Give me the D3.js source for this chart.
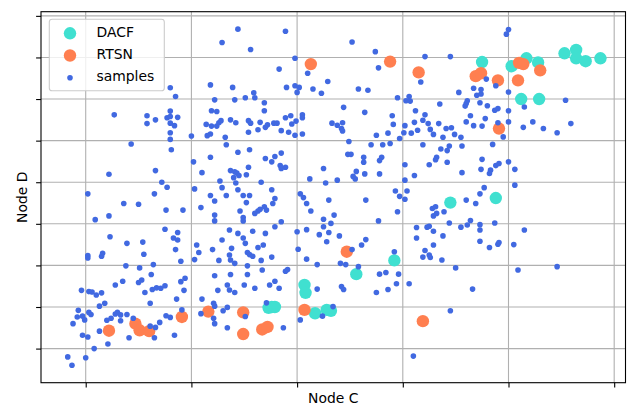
<!DOCTYPE html>
<html>
<head>
<meta charset="utf-8">
<script src="https://cdn.jsdelivr.net/npm/d3@7"></script>
<style>
body { margin: 0; background: white; }
text { font-family: "DejaVu Sans", sans-serif; }
</style>
</head>
<body>
<svg width="627" height="407"></svg>
<script>
// samples, [Node C, Node D]
const samples = [
  [0.80,6.27],[0.85,6.06],[0.27,5.62],[0.58,5.60],[0.58,5.41],[0.66,5.50],[0.80,5.71],[0.77,5.55],[0.80,5.58],[0.87,5.56],
  [0.80,5.42],[0.84,5.36],[0.80,5.19],[0.80,5.03],[0.81,4.78],[0.43,4.92],[0.22,4.19],[0.66,4.28],[0.72,4.00],[0.77,3.88],
  [0.02,3.72],[0.65,3.72],
  [1.44,7.68],[1.89,7.63],[1.29,7.36],[1.56,7.19],[1.98,6.98],[2.10,6.62],[1.83,6.72],[2.29,6.42],[1.18,6.34],[1.39,6.28],
  [1.59,6.15],[1.60,6.03],[1.22,5.98],[1.41,5.98],[1.51,6.03],[1.69,5.91],[1.69,5.72],[1.90,6.28],[1.98,6.32],[2.02,6.28],
  [2.00,6.16],[2.15,6.24],[2.23,6.14],[1.19,5.72],[1.24,5.70],[1.00,5.11],[1.14,5.39],[1.19,5.35],[1.24,5.35],[1.26,5.43],
  [1.28,5.48],[1.15,5.12],[1.18,5.16],[1.32,5.08],[1.33,4.90],[1.37,5.50],[1.42,5.43],[1.54,5.48],[1.56,5.42],[1.54,5.20],
  [1.63,5.26],[1.65,5.44],[1.70,5.32],[1.72,5.38],[1.78,5.42],[1.81,5.42],[1.85,5.24],[1.89,5.55],[1.94,5.60],[1.92,5.20],
  [1.98,5.13],[1.95,5.40],[1.99,5.47],[2.05,5.62],[2.05,5.55],[2.05,5.16],[2.33,5.42],[1.44,4.72],[1.55,4.78],[1.18,4.60],
  [1.02,4.49],[1.10,4.23],[1.70,4.57],[1.79,4.62],[1.85,4.70],[1.76,4.49],[1.84,4.40],[1.89,4.36],[1.85,4.33],[1.37,4.28],
  [1.41,4.25],[1.43,4.22],[1.40,4.11],[1.45,4.16],[1.52,4.18],[1.54,4.36],[1.27,4.03],[1.29,3.87],[1.42,3.98],[1.44,3.82],
  [1.66,4.00],[1.76,3.82],[1.03,3.84],[2.03,3.72],[2.06,3.63],[2.12,4.08],[2.25,4.33],[2.27,3.98],[1.18,3.68],[1.33,3.68],
  [1.49,3.68],[1.55,3.68],
  [2.52,7.37],[2.74,7.14],[2.77,6.75],[3.21,7.02],[3.45,7.02],[3.17,6.41],[2.58,6.24],[2.67,6.21],[2.95,6.03],[3.03,5.96],
  [3.06,6.06],[3.07,5.95],[2.44,5.80],[2.64,5.68],[2.90,5.60],[2.91,5.39],[3.12,5.72],[3.21,5.62],[3.35,5.88],[3.19,5.49],
  [3.11,5.44],[3.24,5.41],[3.26,5.27],[3.34,5.41],[3.14,5.25],[3.08,5.18],[3.02,5.36],[3.01,5.19],[2.97,5.05],[2.86,5.18],
  [2.75,5.13],[3.29,5.15],[3.38,5.08],[3.41,5.29],[3.46,5.31],[3.49,5.15],[3.55,5.08],[3.56,4.87],[3.36,4.80],[3.42,4.76],
  [3.44,4.87],[3.32,4.60],[3.31,4.54],[3.42,4.48],[3.25,4.42],[3.19,4.90],[3.02,4.42],[3.11,4.16],[3.02,4.05],[3.56,4.23],
  [2.81,4.90],[2.88,4.93],[2.70,4.90],[2.49,4.98],[2.48,4.67],[2.51,4.67],[2.63,4.60],[2.63,4.48],[2.80,4.60],[2.78,4.52],
  [2.56,4.26],[2.53,4.14],[2.55,4.08],[2.64,4.20],[2.78,4.20],[2.38,4.05],[2.93,3.79],[2.97,3.66],[3.04,3.79],[2.38,5.37],
  [2.43,5.43],[2.42,5.29],[2.43,5.23],[3.53,6.16],
  [3.67,6.26],[3.70,6.09],[3.61,5.96],[3.60,5.89],[3.59,5.83],[3.64,5.60],[3.60,5.45],[3.67,5.36],
  [4.00,7.67],[3.98,7.56],[3.79,6.48],[3.74,6.23],[3.74,6.12],[3.73,5.91],[3.80,5.84],[3.87,5.73],[3.90,5.77],[3.78,5.53],
  [3.75,5.35],[3.90,5.43],[3.95,5.09],[4.00,5.72],[4.00,5.45],[4.00,6.17],[4.15,5.81],[4.23,5.45],[4.14,5.32],[4.33,5.29],
  [4.46,5.19],[4.59,5.41],[4.54,5.97],[3.85,4.91],[3.75,4.55],[3.74,4.31],[3.83,4.29],[3.82,4.21],[3.88,4.40],[3.91,4.45],
  [4.00,4.49],[4.06,4.31],[4.06,3.93],[3.77,3.87],[3.73,3.72],[3.88,6.32],
  [0.36,3.49],[0.50,3.47],[0.09,3.10],[0.22,3.19],[0.76,3.33],[0.92,3.33],[0.23,2.69],[0.39,2.53],[0.54,2.56],[0.55,2.27],
  [0.75,2.87],[0.83,2.66],[0.87,2.79],[0.87,2.61],[0.85,2.38],[0.90,2.10],[0.02,2.24],[0.02,2.18],[0.15,2.22],[0.16,2.29],
  [0.38,1.99],[0.51,1.94],[0.64,2.02],[0.62,1.78],[0.53,1.65],[0.50,1.59],[0.35,1.62],[0.28,1.53],[0.56,1.35],[0.63,1.42],
  [0.67,1.46],[0.71,1.45],[0.75,1.51],[0.61,1.09],[0.90,1.61],[0.94,1.69],[0.93,1.40],[0.86,1.19],[-0.04,1.40],[0.03,1.37],
  [0.06,1.36],[0.10,1.29],[0.15,1.34],[0.13,1.02],[0.18,1.09],[-0.07,0.92],[-0.08,0.76],[-0.03,0.78],[-0.01,0.69],[0.03,0.87],
  [0.05,0.82],[-0.12,0.60],[-0.03,0.32],[0.02,0.28],[0.13,0.42],[0.08,0.00],[0.21,0.11],[-0.17,-0.20],[-0.13,-0.40],[0.00,-0.22],
  [0.20,0.68],[0.24,0.73],[0.28,0.83],[0.30,0.87],[0.33,0.81],[0.33,0.67],[0.39,0.82],[0.45,0.73],[0.41,0.26],[0.65,0.26],
  [0.61,0.54],[0.66,0.51],[0.70,0.63],[0.76,0.79],[0.80,0.75],[0.84,0.32],[0.91,0.93],
  [1.22,3.55],[1.79,3.61],[1.09,3.39],[1.22,3.21],[1.22,3.07],[1.46,3.31],[1.52,3.51],[1.49,3.15],[1.49,3.07],[1.60,3.25],
  [1.63,3.31],[1.65,3.35],[1.69,3.41],[1.71,3.33],[1.77,3.49],[1.85,3.05],[1.79,2.93],[1.36,2.85],[1.44,2.77],[1.49,2.66],
  [1.58,2.82],[1.70,2.77],[1.29,2.61],[1.51,2.53],[1.05,2.49],[1.07,2.31],[1.20,2.38],[1.38,2.41],[1.36,2.25],[1.37,2.13],
  [1.53,2.31],[1.55,2.26],[1.58,2.22],[1.63,2.43],[1.68,2.49],[1.76,2.20],[1.66,2.12],[1.41,2.05],[1.53,1.99],[1.03,2.14],
  [1.26,2.12],[1.67,1.89],[1.89,1.86],[1.91,1.90],[1.22,1.75],[1.37,1.78],[1.53,1.78],[1.34,1.53],[1.36,1.41],[1.41,1.35],
  [1.50,1.53],[1.60,1.45],[1.74,1.53],[1.79,1.62],[1.83,1.45],[1.25,1.40],[1.10,1.19],[1.21,1.09],[1.22,1.02],[1.34,0.99],
  [1.30,0.91],[1.09,0.84],[1.21,0.73],[1.22,0.60],[1.34,0.50],[1.51,0.77],[1.71,1.10],[1.87,0.50],[2.00,2.81],[2.01,2.39],
  [2.03,0.69],[2.09,2.86],[2.09,2.15],[2.09,3.49],[2.13,3.31],[2.19,2.02],[2.19,1.43],[2.21,2.74],[2.25,3.11],[2.25,2.93],
  [2.30,3.57],[2.30,2.79],[2.28,2.57],[2.32,3.01],[2.24,0.78],
  [2.65,3.57],[3.02,3.59],[2.35,3.21],[2.77,3.07],[2.95,3.29],[2.40,2.71],[2.65,2.62],[2.61,2.49],[2.52,2.38],[2.41,2.05],
  [2.46,2.02],[2.58,1.97],[2.92,2.33],[2.78,1.79],[2.84,1.83],[2.96,1.79],[2.42,1.49],[2.44,1.42],[2.75,1.35],[2.86,1.42],
  [2.94,1.56],[3.06,1.56],[2.34,1.01],[3.10,-0.18],[3.45,0.91],[3.13,2.91],[3.23,2.92],[3.25,2.94],[3.29,2.82],[3.13,2.66],
  [3.29,3.19],[3.32,3.25],[3.28,3.37],[3.31,3.41],[3.39,3.29],[3.44,3.02],[3.38,2.71],[3.29,2.49],[3.21,2.36],[3.19,2.20],
  [3.25,2.25],[3.26,2.19],[3.37,2.13],[3.50,1.94],[3.55,2.92],[3.61,2.97],[3.64,3.08],[3.60,3.57],[3.69,3.49],[3.66,1.43],
  [3.73,2.98],[3.73,2.85],[3.87,3.02],[4.15,2.85],[3.73,2.58],[3.82,2.43],[3.90,2.51],[3.91,2.55],[4.05,2.50],[4.09,1.89],
  [4.46,1.97]
];

const dacf = [
  [3.75,6.89],[4.03,6.79],[4.17,6.98],[4.28,6.88],[4.53,7.10],[4.64,7.18],[4.64,6.98],[4.73,6.91],[4.87,6.98],[4.12,6.00],
  [4.29,6.00],[3.45,3.51],[3.88,3.62],[2.92,2.12],[2.56,1.79],[2.07,1.53],[2.08,1.34],[2.17,0.85],[2.28,0.93],[2.32,0.91],
  [1.73,0.98],[1.76,1.00],[1.79,1.00]
];

const rtsn = [
  [2.13,6.84],[2.88,6.90],[3.15,6.64],[3.69,6.55],[3.74,6.62],[3.90,6.45],[4.09,6.45],[4.10,6.87],[4.14,6.84],[4.30,6.69],
  [3.91,5.29],[0.22,0.43],[0.47,0.60],[0.51,0.44],[0.60,0.42],[0.91,0.76],[1.16,0.89],[1.49,0.87],[1.49,0.35],[1.67,0.46],
  [1.72,0.52],[2.07,0.93],[2.47,2.33],[3.19,0.66]
];

const xTicks = [0, 1, 2, 3, 4, 5];
const yTicks = [0, 1, 2, 3, 4, 5, 6, 7, 8];
const seriesNames = ['DACF', 'RTSN', 'samples'];
const seriesColors = ['#40e0d0', '#ff7f50', '#4169e1'];

const svg = d3.select('svg');
const plotL = 41, plotR = 625.5, plotT = 11.7, plotB = 382.7;

const x = d3.scaleLinear().domain([-0.423, 5.107]).range([plotL, plotR]);
const y = d3.scaleLinear().domain([-0.82, 8.1]).range([plotB, plotT]);

svg.append('rect')
    .attr('width', 627).attr('height', 407)
    .style('fill', 'white');

// grid lines
const grid = svg.append('g');
grid.selectAll('line.gx').data(xTicks).join('line')
    .attr('class', 'gx')
    .attr('x1', d => x(d)).attr('x2', d => x(d))
    .attr('y1', plotT).attr('y2', plotB)
    .style('stroke', '#b0b0b0').style('stroke-width', 1.1);
grid.selectAll('line.gy').data(yTicks).join('line')
    .attr('class', 'gy')
    .attr('x1', plotL).attr('x2', plotR)
    .attr('y1', d => y(d)).attr('y2', d => y(d))
    .style('stroke', '#b0b0b0').style('stroke-width', 1.1);

// points
function dots(data, r, color) {
    svg.append('g').selectAll('circle').data(data).join('circle')
        .attr('cx', d => x(d[0]))
        .attr('cy', d => y(d[1]))
        .attr('r', r)
        .style('fill', color);
}
dots(dacf, 6.2, seriesColors[0]);
dots(rtsn, 6.2, seriesColors[1]);
dots(samples, 2.8, seriesColors[2]);

// axes, ticks without labels
svg.append('g')
    .attr('transform', `translate(0,${plotB})`)
    .call(d3.axisBottom(x).tickValues(xTicks).tickFormat('').tickSize(4.9).tickSizeOuter(0));
svg.append('g')
    .attr('transform', `translate(${plotL},0)`)
    .call(d3.axisLeft(y).tickValues(yTicks).tickFormat('').tickSize(4.9).tickSizeOuter(0));
svg.selectAll('.domain').remove();
svg.selectAll('.tick line').style('stroke', 'black').style('stroke-width', 1.1);

// frame
svg.append('rect')
    .attr('x', plotL).attr('y', plotT)
    .attr('width', plotR - plotL).attr('height', plotB - plotT)
    .style('fill', 'none').style('stroke', 'black').style('stroke-width', 1.1);

// axis labels
svg.append('text')
    .attr('x', (plotL + plotR) / 2).attr('y', 403)
    .attr('text-anchor', 'middle')
    .style('font-size', '13.9px')
    .text('Node C');
svg.append('text')
    .attr('transform', `translate(26.5,${(plotT + plotB) / 2}) rotate(-90)`)
    .attr('text-anchor', 'middle')
    .style('font-size', '13.9px')
    .text('Node D');

// legend
const legend = svg.append('g');
legend.append('rect')
    .attr('x', 49.3).attr('y', 19.3)
    .attr('width', 115).attr('height', 71.4)
    .attr('rx', 2.8)
    .style('fill', 'white').style('fill-opacity', 0.8)
    .style('stroke', '#cccccc').style('stroke-width', 1.1);
const rows = legend.selectAll('g').data(seriesNames).join('g')
    .attr('transform', (d, i) => `translate(0,${33.3 + i * 22.2})`);
rows.append('circle')
    .attr('cx', 70).attr('cy', 0)
    .attr('r', (d, i) => i < 2 ? 6.2 : 2.8)
    .style('fill', (d, i) => seriesColors[i]);
rows.append('text')
    .attr('x', 96.5).attr('y', 3.5)
    .style('font-size', '13.9px')
    .text(d => d);
</script>
</body>
</html>
